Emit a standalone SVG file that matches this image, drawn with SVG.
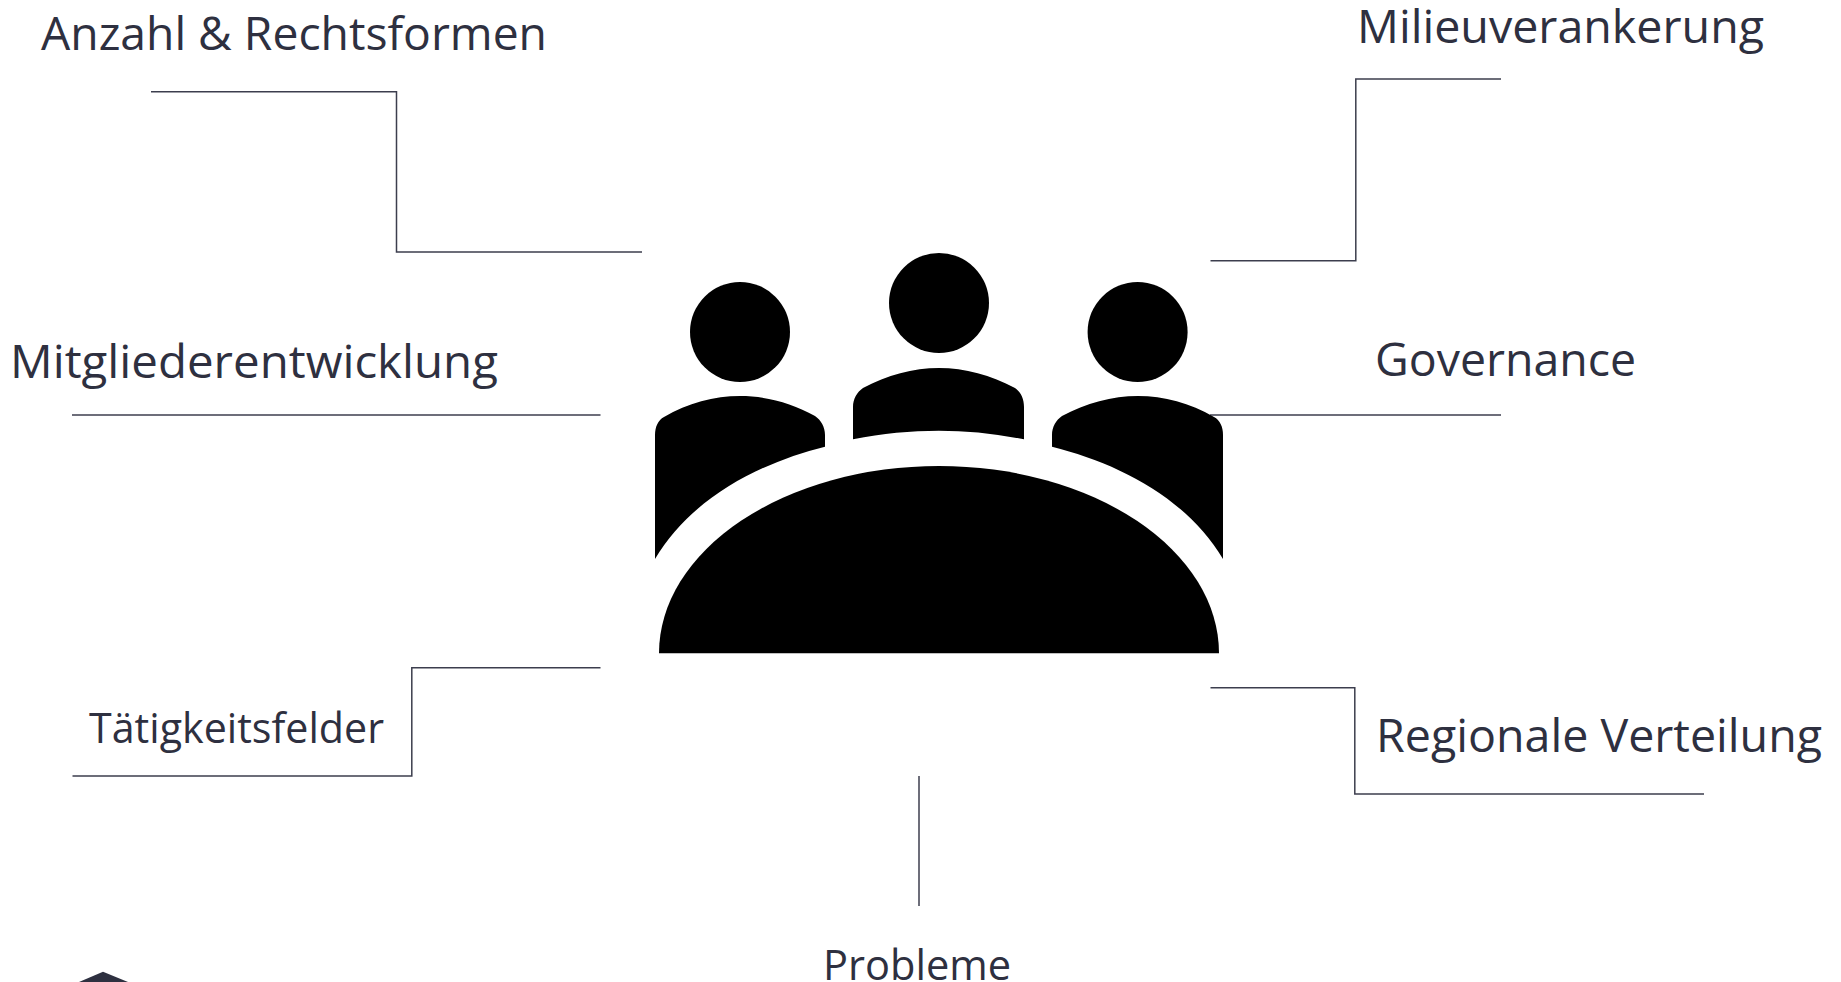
<svg xmlns="http://www.w3.org/2000/svg" width="1841" height="982" viewBox="0 0 1841 982">
<style>
.c{fill:none;stroke:#3c3e4e;stroke-width:1.5}
.t{font-family:"Open Sans","Noto Sans","Liberation Sans",sans-serif;fill:#2e3040;font-size:46px}
.s{font-size:42px}
.i{fill:#000}
</style>
<rect width="1841" height="982" fill="#fff"/>
<g id="connectors">
<path class="c" d="M151 91.7H396.5V252H642"/>
<path class="c" d="M72 415H600.5"/>
<path class="c" d="M600.5 667.8H411.8V776H72.5"/>
<path class="c" d="M1501 79H1355.8V260.7H1210.5"/>
<path class="c" d="M1210 415H1501"/>
<path class="c" d="M1210.5 687.7H1354.8V794H1704"/>
<path class="c" d="M919 776V906"/>
</g>
<g id="meeting-icon">
<circle class="i" cx="740" cy="332" r="50"/>
<circle class="i" cx="939" cy="303" r="50"/>
<circle class="i" cx="1137.6" cy="332" r="50"/>
<path class="i" d="M655 559V435C655 427 658 420 664 417C688 403 714 396 740 396C766 396 792 403 815 416C821 420 825 427 825 435V446.7C760 463 692 497 655 559Z"/>
<path class="i" d="M853 439.3V407C853 399 857 392 863 388C887 375 913 368 939 368C965 368 991 375 1015 388C1021 392 1024 399 1024 407V439.3C966 428 912 428 853 439.3Z"/>
<path class="i" d="M1223 559V435C1223 427 1220 420 1214 417C1190 403 1164 396 1138 396C1112 396 1086 403 1062 416C1056 420 1052 427 1052 435V446.7C1117 463 1186 497 1223 559Z"/>
<path class="i" d="M659 653.3A280 187.3 0 0 1 1219 653.3Z"/>
</g>
<g id="labels">
<text class="t" x="41" y="50" textLength="506" lengthAdjust="spacingAndGlyphs">Anzahl &amp; Rechtsformen</text>
<text class="t" x="10" y="378" textLength="488" lengthAdjust="spacingAndGlyphs">Mitgliederentwicklung</text>
<text class="t s" x="89" y="743" textLength="295" lengthAdjust="spacingAndGlyphs">Tätigkeitsfelder</text>
<text class="t" x="1357" y="43" textLength="407" lengthAdjust="spacingAndGlyphs">Milieuverankerung</text>
<text class="t" x="1375" y="376" textLength="261" lengthAdjust="spacingAndGlyphs">Governance</text>
<text class="t" x="1376" y="752" textLength="446" lengthAdjust="spacingAndGlyphs">Regionale Verteilung</text>
<text class="t s" x="823" y="980" textLength="188" lengthAdjust="spacingAndGlyphs">Probleme</text>
</g>
<polygon id="corner-mark" fill="#2e3040" points="103,971.7 128,982 79,982"/>
</svg>
